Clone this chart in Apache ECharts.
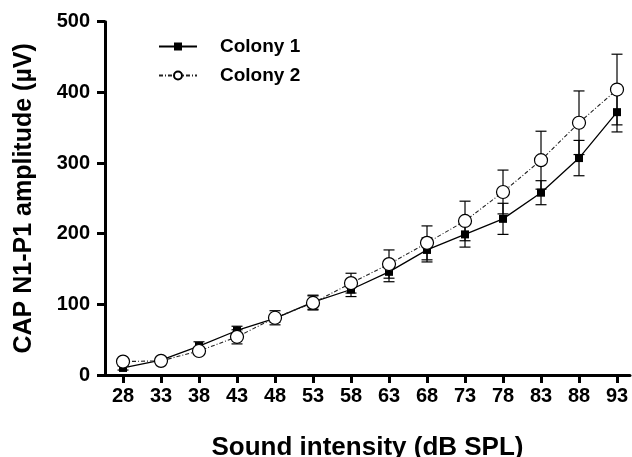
<!DOCTYPE html>
<html>
<head>
<meta charset="utf-8">
<script src="https://cdn.jsdelivr.net/npm/echarts@6/dist/echarts.min.js"></script>
<style>html,body{margin:0;padding:0;background:#fff}#c{width:632px;height:457px}</style>
</head>
<body>
<div id="c"></div>
<script>
const intensities = [28, 33, 38, 43, 48, 53, 58, 63, 68, 73, 78, 83, 88, 93];
const colony1 = [10, 21, 41, 63, 80, 103, 121, 146, 177, 199, 221, 258, 307, 372];
const colony1Err = [3, 4, 6, 6, 5, 10, 10, 14, 17, 18, 22, 17, 25, 28];
const colony2 = [19, 20, 34, 54, 81, 102, 130, 157, 187, 218, 259, 304, 357, 404];
const colony2Err = [3, 4, 5, 10, 10, 10, 14, 20, 24, 28, 31, 41, 45, 50];
const yTicks = [0, 100, 200, 300, 400, 500];

const FONT = 'Liberation Sans, Arial, sans-serif';
const chart = echarts.init(document.getElementById('c'));

function errData(vals, errs) {
  return intensities.map((x, i) => [x, vals[i] - errs[i], vals[i] + errs[i]]);
}
function errRender(params, api) {
  const x = api.value(0);
  const lo = api.coord([x, api.value(1)]);
  const hi = api.coord([x, api.value(2)]);
  const hw = 5.5;
  const st = { stroke: '#000', lineWidth: 1.2 };
  return {
    type: 'group',
    children: [
      { type: 'line', shape: { x1: lo[0], y1: lo[1], x2: hi[0], y2: hi[1] }, style: st },
      { type: 'line', shape: { x1: lo[0] - hw, y1: lo[1], x2: lo[0] + hw, y2: lo[1] }, style: st },
      { type: 'line', shape: { x1: hi[0] - hw, y1: hi[1], x2: hi[0] + hw, y2: hi[1] }, style: st }
    ]
  };
}

chart.setOption({
  animation: false,
  backgroundColor: '#fff',
  grid: { left: 105, right: 2, top: 21.7, bottom: 82, containLabel: false, outerBoundsMode: 'none' },
  legend: {
    orient: 'vertical',
    left: 153,
    top: 32,
    itemWidth: 38,
    itemHeight: 10,
    itemGap: 10,
    data: ['Colony 1', 'Colony 2'],
    textStyle: { fontFamily: FONT, fontSize: 19, fontWeight: 'bold', color: '#000', padding: [0, 0, 0, 18] }
  },
  xAxis: {
    type: 'value',
    min: 25.63,
    max: 94.71,
    name: 'Sound intensity (dB SPL)',
    nameLocation: 'middle',
    nameGap: 60,
    nameTextStyle: { fontFamily: FONT, fontSize: 26, fontWeight: 'bold', color: '#000' },
    axisLine: { show: true, lineStyle: { color: '#000', width: 3 } },
    axisTick: { show: true, customValues: intensities, length: 8, lineStyle: { color: '#000', width: 3 } },
    axisLabel: { customValues: intensities, margin: 11, fontFamily: FONT, fontSize: 20, fontWeight: 'bold', color: '#000' },
    splitLine: { show: false }
  },
  yAxis: {
    type: 'value',
    min: 0,
    max: 500,
    interval: 100,
    name: 'CAP N1-P1 amplitude (µV)',
    nameLocation: 'middle',
    nameGap: 68,
    nameTextStyle: { fontFamily: FONT, fontSize: 25, fontWeight: 'bold', color: '#000' },
    axisLine: { show: true, lineStyle: { color: '#000', width: 3 } },
    axisTick: { show: true, customValues: yTicks, length: 8, lineStyle: { color: '#000', width: 3 } },
    axisLabel: { customValues: yTicks, margin: 15, fontFamily: FONT, fontSize: 20, fontWeight: 'bold', color: '#000' },
    splitLine: { show: false }
  },
  series: [
    {
      type: 'custom', name: 'err1', z: 1, silent: true,
      renderItem: errRender, data: errData(colony1, colony1Err)
    },
    {
      type: 'custom', name: 'err2', z: 1, silent: true,
      renderItem: errRender, data: errData(colony2, colony2Err)
    },
    {
      type: 'line', name: 'Colony 1', z: 3,
      data: intensities.map((x, i) => [x, colony1[i]]),
      symbol: 'rect', symbolSize: 8,
      itemStyle: { color: '#000', borderColor: '#000', borderWidth: 0 },
      lineStyle: { color: '#000', width: 1.3, type: 'solid' }
    },
    {
      type: 'line', name: 'Colony 2', z: 4,
      data: intensities.map((x, i) => [x, colony2[i]]),
      symbol: 'circle', symbolSize: 13,
      itemStyle: { color: '#fff', borderColor: '#000', borderWidth: 1.2 },
      lineStyle: { color: '#222', width: 1.1, type: [4, 2, 1, 2] }
    }
  ]
});
</script>
</body>
</html>
